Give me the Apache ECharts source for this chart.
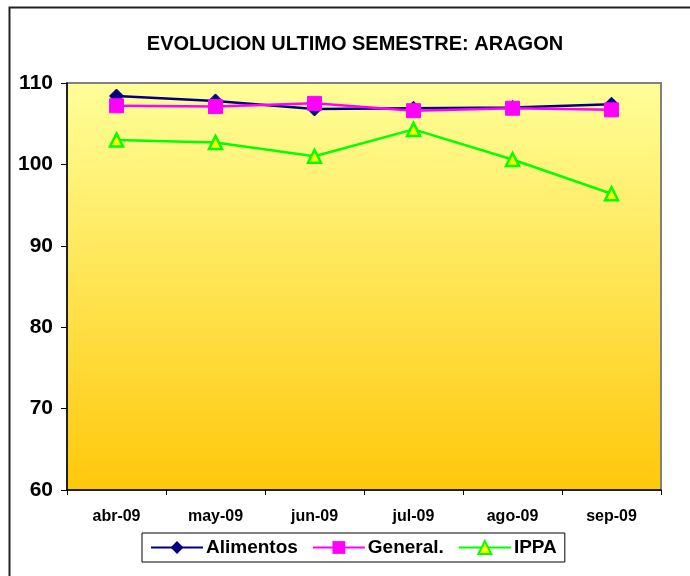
<!DOCTYPE html>
<html>
<head>
<meta charset="utf-8">
<script src="https://cdn.jsdelivr.net/npm/echarts@6/dist/echarts.min.js"></script>
<style>
html, body { margin: 0; padding: 0; background: #fff; }
#main { width: 690px; height: 576px; }
</style>
</head>
<body>
<div id="main"></div>
<script>
// datos
var meses = ['abr-09', 'may-09', 'jun-09', 'jul-09', 'ago-09', 'sep-09'];
var alimentos = [108.4, 107.8, 106.8, 106.9, 107.0, 107.4];
var general = [107.2, 107.1, 107.5, 106.6, 106.9, 106.7];
var ippa = [103.0, 102.7, 101.0, 104.3, 100.6, 96.4];

var chart = echarts.init(document.getElementById('main'));
var font = 'Liberation Sans, Arial, sans-serif';

chart.setOption({
  animation: false,
  title: {
    text: 'EVOLUCION ULTIMO SEMESTRE: ARAGON',
    left: 350, top: 29, textAlign: 'center',
    textStyle: { fontFamily: font, fontSize: 20, fontWeight: 'bold', color: '#000' }
  },
  // borde exterior
  graphic: [{
    type: 'rect', left: 7, top: 5, z: 100,
    shape: { width: 700, height: 600 },
    style: { fill: 'none', stroke: '#222', lineWidth: 2 }
  }],
  legend: {
    data: ['Alimentos', 'General.', 'IPPA'],
    left: 142, top: 533,
    padding: [5, 8, 5, 8],
    itemWidth: 52, itemHeight: 16, itemGap: 14,
    borderColor: '#000', borderWidth: 1,
    textStyle: { fontFamily: font, fontSize: 19, fontWeight: 'bold', color: '#000', padding: [0, 0, 0, -2] }
  },
  grid: {
    left: 67, top: 83, width: 594, height: 407,
    show: true,
    borderColor: '#808080', borderWidth: 2,
    backgroundColor: new echarts.graphic.LinearGradient(0, 0, 0, 1, [
      { offset: 0, color: '#FFFF99' },
      { offset: 1, color: '#FFC80A' }
    ])
  },
  xAxis: {
    type: 'category',
    data: meses,
    boundaryGap: true,
    axisLine: { lineStyle: { color: '#000', width: 1.5 } },
    axisTick: { show: true, length: 5, lineStyle: { color: '#000' } },
    axisLabel: { fontFamily: font, fontSize: 16, fontWeight: 'bold', color: '#000', margin: 19 }
  },
  yAxis: {
    type: 'value',
    min: 60, max: 110, interval: 10,
    axisLine: { show: true, lineStyle: { color: '#000', width: 1.5 } },
    axisTick: { show: true, length: 6, lineStyle: { color: '#000' } },
    splitLine: { show: false },
    axisLabel: { fontFamily: font, fontSize: 21, fontWeight: 'bold', color: '#000', margin: 14 }
  },
  series: [{
    name: 'Alimentos', type: 'line', data: alimentos,
    symbol: 'diamond', symbolSize: 14,
    lineStyle: { color: '#000080', width: 2.5 },
    itemStyle: { color: '#000080', borderColor: '#000080' }
  }, {
    name: 'General.', type: 'line', data: general,
    symbol: 'rect', symbolSize: 14,
    lineStyle: { color: '#FF00FF', width: 2.5 },
    itemStyle: { color: '#FF00FF', borderColor: '#FF00FF' }
  }, {
    name: 'IPPA', type: 'line', data: ippa,
    symbol: 'triangle', symbolSize: 13,
    lineStyle: { color: '#00FF00', width: 2.5 },
    itemStyle: { color: '#FFFF00', borderColor: '#00FF00', borderWidth: 2.5 }
  }]
});
</script>
</body>
</html>
